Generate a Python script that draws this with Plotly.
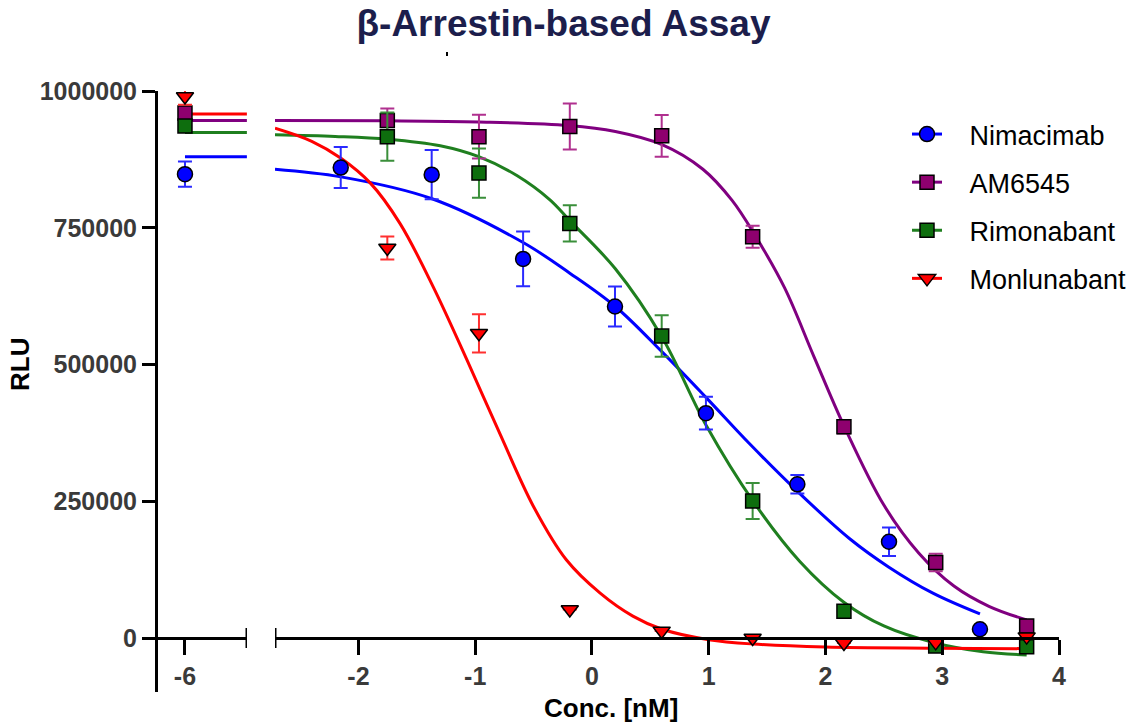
import plotly.graph_objects as go

# ---------------- data ----------------
compounds = ["Nimacimab", "AM6545", "Rimonabant", "Monlunabant"]

conc_nima = [-6.0, -2.152, -1.373, -0.59, 0.197, 0.976, 1.759, 2.544, 3.323]
conc_other = [-6.0, -1.753, -0.968, -0.19, 0.597, 1.376, 2.158, 2.944, 3.723]

nima_mean = [848000, 860000, 847000, 693000, 606000, 411000, 281000, 176000, 16000]
nima_err = [23000, 37500, 45000, 50000, 36500, 30000, 17000, 26000, 0]

am_mean = [960000, 946000, 916500, 935000, 918000, 733600, 386000, 138000, 22000]
am_err = [0, 22000, 40000, 42000, 38000, 20000, 12000, 16000, 0]

rimo_mean = [936000, 916500, 850000, 758000, 552000, 250500, 49000, -14600, -16000]
rimo_err = [0, 44000, 45000, 33000, 38000, 33000, 0, 0, 0]

monl_mean = [990000, 713000, 557000, 52000, 13000, 0, -9000, -8000, 2500]
monl_err = [15000, 21000, 35000, 0, 0, 0, 0, 0, 0]

# fitted curves, left segment (plateau)
seg1_curve_x = [-6.0, -5.47]
nima_top = [880000, 880000]
am_top = [946000, 946000]
rimo_top = [924000, 924000]
monl_top = [958000, 958000]

# fitted curves, right segment
nima_cx = [-2.715, -2.15, -1.37, -0.59, -0.19, 0.2, 0.6, 0.98, 1.35, 1.76, 2.21, 2.54, 2.92, 3.323]
nima_cy = [857000, 843000, 803000, 723000, 667000, 606000, 523000, 439000, 355000, 268000, 181000, 130000, 82000, 44000]

am_cx = [-2.715, -1.75, -0.97, -0.2, 0.2, 0.6, 0.95, 1.2, 1.4, 1.65, 1.9, 2.16, 2.5, 2.8, 3.1, 3.4, 3.723]
am_cy = [946000, 945500, 943500, 937000, 926000, 902000, 857000, 800000, 735000, 640000, 515000, 387000, 243000, 155000, 95000, 58000, 33000]

rimo_cx = [-2.715, -2.2, -1.75, -1.3, -0.97, -0.64, -0.36, -0.19, 0.2, 0.6, 0.98, 1.38, 1.78, 2.16, 2.5, 2.94, 3.35, 3.723]
rimo_cy = [920000, 917000, 912000, 900000, 880000, 845000, 801000, 763000, 675000, 550000, 388000, 250000, 140000, 65000, 22000, -9000, -25000, -31000]

monl_cx = [-2.715, -2.4, -2.15, -1.9, -1.645, -1.36, -1.07, -0.79, -0.5, -0.22, 0.07, 0.35, 0.6, 1.0, 1.38, 2.0, 2.94, 3.723]
monl_cy = [932000, 908000, 877000, 832000, 758000, 642000, 508000, 374000, 240000, 143000, 82000, 40000, 16000, -3000, -11000, -16500, -18500, -19500]

y_ticks = [0, 250000, 500000, 750000, 1000000]
x1_ticks = [-6]
x1_labels = ["-6"]
x2_ticks = [-2, -1, 0, 1, 2, 3, 4]
x2_labels = ["-2", "-1", "0", "1", "2", "3", "4"]

# ---------------- styling ----------------
FONT = "Liberation Sans, Arial, sans-serif"
series = [
    dict(name="Nimacimab", x=conc_nima, y=nima_mean, e=nima_err, cx=nima_cx, cy=nima_cy, top=nima_top,
         line="#0000FF", fill="#0000FF", err="#2A2AFF", symbol="circle", size=15),
    dict(name="AM6545", x=conc_other, y=am_mean, e=am_err, cx=am_cx, cy=am_cy, top=am_top,
         line="#800080", fill="#8E006E", err="#B0308F", symbol="square", size=14),
    dict(name="Rimonabant", x=conc_other, y=rimo_mean, e=rimo_err, cx=rimo_cx, cy=rimo_cy, top=rimo_top,
         line="#1F7F1F", fill="#0E6E0E", err="#3A8F3A", symbol="square", size=14),
    dict(name="Monlunabant", x=conc_other, y=monl_mean, e=monl_err, cx=monl_cx, cy=monl_cy, top=monl_top,
         line="#FF0000", fill="#FF0000", err="#FF3030", symbol="triangle-down", size=15),
]

fig = go.Figure()

# curves
for s in series:
    fig.add_trace(go.Scatter(x=seg1_curve_x, y=s["top"], mode="lines", xaxis="x", yaxis="y",
                             line=dict(color=s["line"], width=3), showlegend=False, hoverinfo="skip"))
    fig.add_trace(go.Scatter(x=s["cx"], y=s["cy"], mode="lines", xaxis="x2", yaxis="y",
                             line=dict(color=s["line"], width=3, shape="spline", smoothing=1.0),
                             showlegend=False, hoverinfo="skip"))

# points (drawn on top of curves)
for s in series:
    for ax, sl in (("x", slice(0, 1)), ("x2", slice(1, None))):
        fig.add_trace(go.Scatter(
            x=s["x"][sl], y=s["y"][sl], mode="markers", xaxis=ax, yaxis="y",
            marker=dict(symbol=s["symbol"], size=s["size"], color=s["fill"],
                        line=dict(color="black", width=1.5)),
            error_y=dict(type="data", array=s["e"][sl], visible=True, color=s["err"],
                         thickness=2, width=7),
            cliponaxis=False, showlegend=False))

# legend entries (line + marker)
PAD = "\u00a0\u00a0\u00a0"
for i, s in enumerate(series):
    fig.add_trace(go.Scatter(
        x=[None], y=[None], mode="lines+markers", name=PAD + s["name"], xaxis="x2", yaxis="y",
        legendgroup=f"g{i}",
        line=dict(color=s["line"], width=3),
        marker=dict(symbol=s["symbol"], size=s["size"], color=s["fill"],
                    line=dict(color="black", width=1.5))))

W, H = 1127, 728
L, R, T, B = 158, 68, 91, 36
PW, PH = W - L - R, H - T - B
x_axis_pos = (692 - 638) / PH

tickfont = dict(family=FONT, size=25, color="#3A3A3A", weight="bold")

axis_common = dict(showline=True, linecolor="black", linewidth=3, ticks="outside",
                   ticklen=15, tickwidth=3, tickcolor="black", showgrid=False,
                   zeroline=False, tickfont=tickfont, anchor="free", position=x_axis_pos)

fig.update_layout(
    width=W, height=H,
    margin=dict(l=L, r=R, t=T, b=B, autoexpand=False),
    paper_bgcolor="white", plot_bgcolor="white",
    font=dict(family=FONT),
    title=dict(text="β-Arrestin-based Assay", x=0.5, xref="container", xanchor="center",
               y=1 - 23 / H, yref="container", yanchor="middle",
               font=dict(family=FONT, size=37, color="#1C1E4C", weight="bold")),
    xaxis=dict(domain=[0, 89 / PW], range=[-6.231, -5.469], tickvals=x1_ticks,
               ticktext=x1_labels, **axis_common),
    xaxis2=dict(domain=[117 / PW, 1.0], range=[-2.715, 4.0], tickvals=x2_ticks,
                ticktext=x2_labels, **axis_common),
    yaxis=dict(range=[-98700, 1000000], anchor="x", showline=True, linecolor="black", linewidth=3,
               ticks="outside", ticklen=13, tickwidth=3, tickcolor="black",
               tickvals=y_ticks, tickformat="d", showgrid=False, zeroline=False, tickfont=tickfont),
    legend=dict(x=(907 - L) / PW, xanchor="left", y=1 - (110 - T) / PH, yanchor="top",
                font=dict(family=FONT, size=27, color="black"), traceorder="grouped",
                tracegroupgap=10, bgcolor="rgba(0,0,0,0)"),
    showlegend=True,
)

# axis break caps
cap = 10 / PH
fig.add_shape(type="line", xref="x", yref="paper", x0=-5.469, x1=-5.469,
              y0=x_axis_pos - cap, y1=x_axis_pos + cap, line=dict(color="black", width=3))
fig.add_shape(type="line", xref="x2", yref="paper", x0=-2.715, x1=-2.715,
              y0=x_axis_pos - cap, y1=x_axis_pos + cap, line=dict(color="black", width=3))

# axis titles
fig.add_annotation(text="Conc. [nM]", xref="paper", yref="paper",
                   x=(611 - L) / PW, y=(H - B - 708) / PH,
                   xanchor="center", yanchor="middle", showarrow=False,
                   font=dict(family=FONT, size=26, color="black", weight="bold"))
fig.add_annotation(text="RLU", xref="paper", yref="paper",
                   x=(20 - L) / PW, y=(H - B - 365) / PH, textangle=-90,
                   xanchor="center", yanchor="middle", showarrow=False,
                   font=dict(family=FONT, size=26, color="black", weight="bold"))

# small stray mark under the title
fig.add_shape(type="rect", xref="paper", yref="paper",
              x0=(446 - L) / PW, x1=(448 - L) / PW, y0=(H - B - 56) / PH, y1=(H - B - 52) / PH,
              line=dict(width=0), fillcolor="black")

fig.write_html("out.html")
